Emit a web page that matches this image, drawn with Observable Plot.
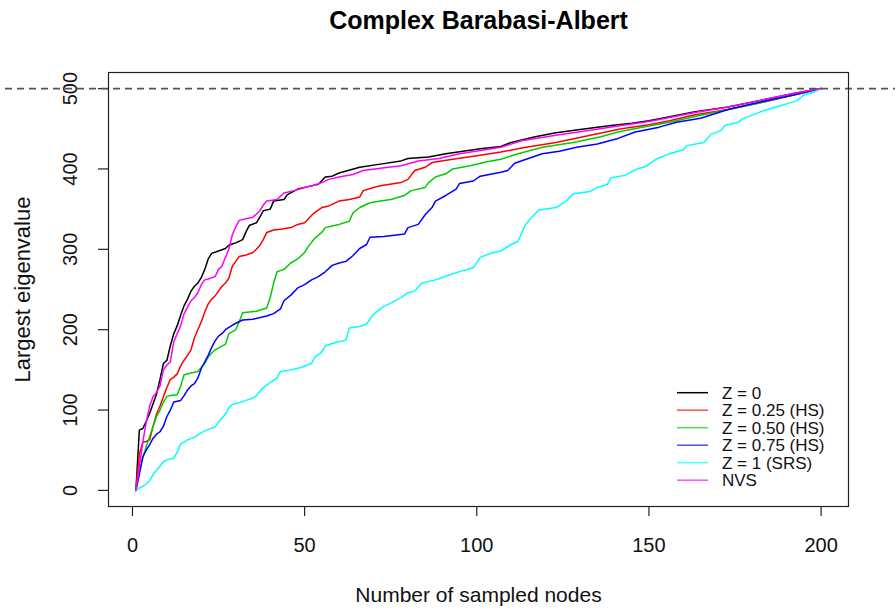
<!DOCTYPE html>
<html>
<head>
<meta charset="utf-8">
<script src="https://cdn.jsdelivr.net/npm/d3@7"></script>
<script src="https://cdn.jsdelivr.net/npm/@observablehq/plot@0.6"></script>
<style>
  html, body { margin: 0; padding: 0; background: white; }
  #chart { width: 895px; height: 611px; }
</style>
</head>
<body>
<div id="chart"></div>
<script>
// ---------------- data ----------------
const chartTitle = "Complex Barabasi-Albert";
const xLabel = "Number of sampled nodes";
const yLabel = "Largest eigenvalue";
const xTicks = [0, 50, 100, 150, 200];
const yTicks = [0, 100, 200, 300, 400, 500];
const refValue = 500;

const seriesNames = ["Z = 0", "Z = 0.25 (HS)", "Z = 0.50 (HS)", "Z = 0.75 (HS)", "Z = 1 (SRS)", "NVS"];
const seriesColors = ["#000000", "#ff0000", "#00cd00", "#0000ff", "#00ffff", "#ff00ff"];

const xZ0 = [1,2,3,4,5,6,7,8,9,10,11,12,13,14,15,16,17,18,19,20,21,22,23,25,27,28,30,32,33,34,36,37,38,40,41,44,45,48,51,54,56,58,60,66,72,78,80,86,91,96,101,107,110,117,123,130,139,145,150,156,163,173,182,192,200];
const yZ0 = [0,75,77,86,96,108,120,138,158,162,180,195,205,218,230,238,248,254,258,265,275,288,295,298,301,305,308,312,322,330,333,340,348,350,360,362,368,375,378,381,390,391,395,402,406,410,413,415,419,422,425,428,433,440,445,449,454,457,460,465,471,477,485,494,500];

const xZ25 = [1,2,3,4,5,6,7,8,9,10,11,12,13,14,15,16,17,18,19,20,21,22,23,24,25,26,27,28,29,30,31,33,35,36,37,38,39,41,43,46,48,50,52,53,55,57,60,63,66,67,70,72,78,80,82,85,87,93,101,107,113,123,133,142,150,156,163,173,182,190,200];
const yZ25 = [0,45,60,61,63,80,95,105,117,128,138,141,145,155,162,168,175,190,200,210,222,232,238,242,248,254,258,264,279,285,291,293,296,300,305,312,321,324,325,327,331,333,342,346,352,354,360,362,365,373,377,379,383,387,398,402,408,412,417,421,426,433,442,450,455,460,467,474,482,490,500];

const xZ50 = [1,2,3,4,5,6,7,8,9,10,11,13,14,15,17,19,20,21,22,23,24,25,27,28,30,31,32,34,36,39,40,41,42,44,46,48,50,51,53,55,56,58,60,63,64,66,69,72,75,79,81,85,86,88,91,93,98,103,107,112,119,128,136,141,148,156,163,173,182,192,200];
const yZ50 = [0,25,40,55,67,80,92,100,110,117,118,119,130,144,146,148,153,158,166,171,175,177,182,195,200,210,221,222,223,227,240,258,272,275,283,288,296,303,314,321,327,329,331,335,345,352,358,360,362,367,373,377,383,390,394,400,404,409,412,419,427,433,440,446,452,458,465,474,482,492,500];

const xZ75 = [1,2,3,4,5,6,7,8,9,10,11,12,14,15,16,17,18,19,20,21,22,23,24,25,26,27,28,30,32,35,39,41,43,44,46,48,50,52,54,56,58,60,62,64,66,68,69,73,79,80,83,85,87,88,91,94,95,99,101,107,109,111,115,119,124,129,135,141,146,153,158,165,173,182,192,200];
const yZ75 = [0,20,42,50,57,65,70,73,80,92,100,110,112,118,125,130,133,140,152,160,168,178,186,192,195,200,203,208,212,213,217,220,226,236,243,252,256,262,266,272,280,283,285,292,301,306,315,316,319,327,331,343,352,360,367,375,382,385,391,396,398,407,413,419,422,427,431,438,446,452,458,463,474,483,492,500];

const xZ1 = [1,2,3,4,5,6,7,8,9,10,12,13,14,16,18,20,22,24,25,27,28,29,31,33,35,36,38,40,42,43,46,49,52,53,55,56,59,62,63,66,68,70,73,75,78,80,82,84,88,90,94,99,101,104,107,110,112,114,116,118,123,126,128,133,135,138,139,143,146,149,152,156,160,161,166,168,171,172,176,177,180,183,187,190,193,195,198,200];
const yZ1 = [0,3,5,8,12,20,25,30,36,38,40,48,58,63,66,72,76,79,85,95,103,107,109,112,115,118,128,134,140,148,150,153,158,166,172,180,184,187,202,204,207,219,229,233,240,246,248,258,262,265,271,277,290,295,298,306,310,330,340,349,352,360,369,372,377,381,389,392,399,403,412,419,424,429,433,443,448,454,458,462,467,472,477,481,485,492,496,500];

const xNVS = [1,2,3,4,5,6,7,8,9,10,11,12,13,14,15,16,17,18,19,20,21,22,24,25,26,27,28,29,30,31,33,35,37,38,39,42,44,47,50,53,55,57,60,64,67,72,78,83,89,95,101,107,113,123,133,142,150,156,163,173,182,192,200];
const yNVS = [0,30,60,85,105,117,122,130,150,156,160,185,195,205,220,228,236,240,246,256,262,263,266,275,279,290,300,318,328,336,338,340,348,355,360,362,370,373,377,380,383,387,390,393,398,401,404,410,413,419,423,427,435,442,448,454,459,464,470,477,485,494,500];

const seriesX = [xZ0, xZ25, xZ50, xZ75, xZ1, xNVS];
const seriesY = [yZ0, yZ25, yZ50, yZ75, yZ1, yNVS];

// build long table for the library
const table = [];
seriesNames.forEach((name, s) => {
  seriesX[s].forEach((x, i) => table.push({series: name, x, y: seriesY[s][i]}));
});

// ---------------- chart ----------------
const font = "'Liberation Sans', Arial, Helvetica, sans-serif";

const chart = Plot.plot({
  width: 895,
  height: 611,
  marginLeft: 108,
  marginRight: 47,
  marginTop: 72,
  marginBottom: 105,
  style: {fontFamily: font, fontSize: "20px", background: "white", color: "#000", overflow: "visible"},
  x: {domain: [-6.96, 207.96]},
  y: {domain: [-20, 520]},
  color: {domain: seriesNames, range: seriesColors},
  marks: [
    Plot.axisX(xTicks, {tickSize: 10, tickFormat: () => "", label: null, stroke: "#222", strokeWidth: 1.2}),
    Plot.axisY(yTicks, {tickSize: 10, tickFormat: () => "", label: null, stroke: "#222", strokeWidth: 1.2}),
    Plot.text(xTicks, {x: d => d, text: d => String(d), frameAnchor: "bottom", dy: 39, lineAnchor: "middle", fontSize: 20, fill: "#111"}),
    Plot.text(yTicks, {y: d => d, text: d => String(d), frameAnchor: "left", dx: -38, rotate: -90, textAnchor: "middle", lineAnchor: "middle", fontSize: 20, fill: "#111"}),
    Plot.text([xLabel], {text: d => d, frameAnchor: "bottom", dy: 89, lineAnchor: "middle", fontSize: 21, fill: "#111"}),
    Plot.text([yLabel], {text: d => d, frameAnchor: "left", dx: -86, rotate: -90, textAnchor: "middle", lineAnchor: "middle", fontSize: 22, fill: "#111"}),
    Plot.text([chartTitle], {text: d => d, frameAnchor: "top", dy: -52, lineAnchor: "middle", fontSize: 25, fontWeight: "bold", fill: "#000"}),
    Plot.line(table, {x: "x", y: "y", z: "series", stroke: "series", strokeWidth: 1.5, curve: "linear"}),
    Plot.ruleY([refValue], {stroke: "#555", strokeWidth: 1.8, strokeDasharray: "7,5", insetLeft: -103, insetRight: -47}),
    Plot.frame({stroke: "#222", strokeWidth: 1.2})
  ]
});

document.getElementById("chart").appendChild(chart);

// legend (no box), drawn inside the plot area at bottom right
const svg = d3.select(chart);
const lg = svg.append("g")
  .attr("font-family", font)
  .attr("font-size", 17)
  .attr("text-anchor", "start");
seriesNames.forEach((name, i) => {
  const yy = 392.7 + i * 17.5;
  lg.append("line")
    .attr("x1", 677).attr("x2", 708).attr("y1", yy).attr("y2", yy)
    .attr("stroke", seriesColors[i]).attr("stroke-width", 1.5)
    .attr("stroke-opacity", i === 0 ? 1 : 0.7);
  lg.append("text")
    .attr("x", 722).attr("y", yy).attr("dy", "0.35em")
    .attr("text-anchor", "start")
    .attr("fill", "#111")
    .text(name);
});
</script>
</body>
</html>
